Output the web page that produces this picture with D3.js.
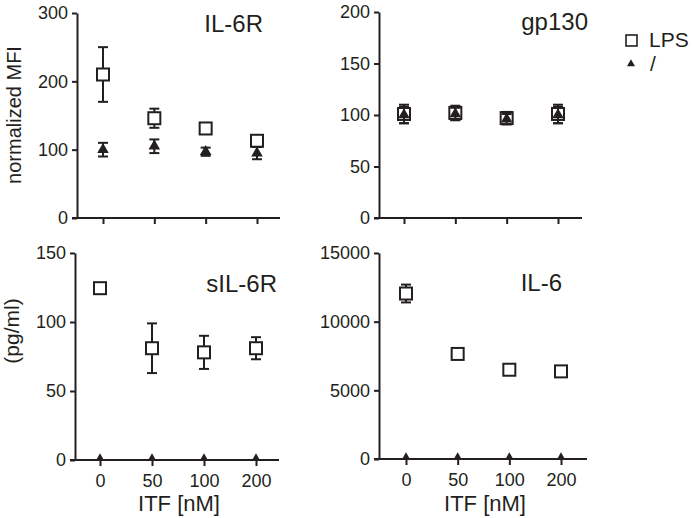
<!DOCTYPE html>
<html>
<head>
<meta charset="utf-8">
<script src="https://cdn.jsdelivr.net/npm/d3@7"></script>
<style>
  body { margin: 0; background: #fff; }
  svg { font-family: "Liberation Sans", Arial, sans-serif; }
  .axis path, .axis line { stroke: #231f20; stroke-width: 2; }
  .axis text { font-size: 18px; fill: #231f20; }
</style>
</head>
<body>
<div id="chart"></div>
<script>

const doses = ["0", "50", "100", "200"];

// LPS series (open squares) and control "/" series (filled triangles)
const il6r_lps = [210, 146, 131, 113];
const il6r_lps_err = [40, 14, 5, 6];
const il6r_ctrl = [100, 105, 97, 95];
const il6r_ctrl_err = [10, 10, 6, 9];

const gp130_lps = [101, 102, 97, 101];
const gp130_lps_err = [9, 7, 6, 9];
const gp130_ctrl = [100, 101, 96, 100];
const gp130_ctrl_err = [8, 6, 5, 8];

const sil6r_lps = [124.5, 81, 78, 81];
const sil6r_lps_err = [3, 18, 12, 8];
const sil6r_ctrl = [0, 0, 0, 0];

const il6_lps = [12050, 7650, 6500, 6380];
const il6_lps_err = [650, 150, 250, 150];
const il6_ctrl = [0, 0, 0, 0];

const yTicks1 = [0, 100, 200, 300];
const yTicks2 = [0, 50, 100, 150, 200];
const yTicks3 = [0, 50, 100, 150];
const yTicks4 = [0, 5000, 10000, 15000];

const INK = "#231f20";

const FRAME = d3.select("#chart")
                .append("svg")
                  .attr("width", 693)
                  .attr("height", 518);

// one panel per measurement
const panels = [
  {id: "p1", title: "IL-6R", ax: 77, axEnd: 280, px: [103, 257], y0: 218, y1: 13, max: 300,
   ticks: yTicks1, lps: il6r_lps, lpsErr: il6r_lps_err, ctrl: il6r_ctrl, ctrlErr: il6r_ctrl_err,
   tx: 263, ty: 32, xlab: false},
  {id: "p2", title: "gp130", ax: 379, axEnd: 582, px: [404, 558], y0: 218, y1: 12, max: 200,
   ticks: yTicks2, lps: gp130_lps, lpsErr: gp130_lps_err, ctrl: gp130_ctrl, ctrlErr: gp130_ctrl_err,
   tx: 588, ty: 30, xlab: false},
  {id: "p3", title: "sIL-6R", ax: 75, axEnd: 279, px: [100, 256], y0: 460, y1: 253, max: 150,
   ticks: yTicks3, lps: sil6r_lps, lpsErr: sil6r_lps_err, ctrl: sil6r_ctrl, ctrlErr: null,
   tx: 277, ty: 292, xlab: true},
  {id: "p4", title: "IL-6", ax: 379, axEnd: 587, px: [406, 561], y0: 459, y1: 253, max: 15000,
   ticks: yTicks4, lps: il6_lps, lpsErr: il6_lps_err, ctrl: il6_ctrl, ctrlErr: null,
   tx: 562, ty: 291, xlab: true}
];

const triangle = d3.symbol().type(d3.symbolTriangle).size(58);

panels.forEach((p) => {
  const X = d3.scalePoint().domain(doses).range(p.px);
  const Y = d3.scaleLinear().domain([0, p.max]).range([p.y0, p.y1]);

  const g = FRAME.append("g");

  // clip marks so nothing pokes below the x axis
  FRAME.append("clipPath").attr("id", "clip-" + p.id)
       .append("rect")
         .attr("x", p.ax).attr("y", 0)
         .attr("width", p.axEnd - p.ax).attr("height", p.y0);

  // axes
  g.append("g").attr("class", "axis")
    .attr("transform", "translate(" + p.ax + ",0)")
    .call(d3.axisLeft(Y).tickValues(p.ticks).tickFormat(d3.format("d"))
            .tickSize(5).tickPadding(4).tickSizeOuter(0));

  const xa = g.append("g").attr("class", "axis")
    .attr("transform", "translate(0," + p.y0 + ")")
    .call(d3.axisBottom(X).tickSize(6).tickPadding(8).tickSizeOuter(0));
  xa.select(".domain").attr("d", "M" + (p.ax - 5) + ",0H" + p.axEnd);
  if (!p.xlab) xa.selectAll("text").remove();

  const marks = g.append("g").attr("clip-path", "url(#clip-" + p.id + ")");

  function errBars(vals, errs) {
    const eg = marks.append("g").attr("stroke", INK).attr("stroke-width", 2).attr("fill", "none");
    vals.forEach((v, i) => {
      const x = X(doses[i]);
      const hi = Y(v + errs[i]), lo = Y(v - errs[i]);
      eg.append("line").attr("x1", x).attr("x2", x).attr("y1", hi).attr("y2", lo);
      eg.append("line").attr("x1", x - 5).attr("x2", x + 5).attr("y1", hi).attr("y2", hi);
      eg.append("line").attr("x1", x - 5).attr("x2", x + 5).attr("y1", lo).attr("y2", lo);
    });
  }

  errBars(p.lps, p.lpsErr);
  marks.selectAll(".sq").data(p.lps).enter()
    .append("rect")
      .attr("x", (d, i) => X(doses[i]) - 6)
      .attr("y", (d) => Y(d) - 6)
      .attr("width", 12).attr("height", 12)
      .attr("fill", "#fff").attr("stroke", INK).attr("stroke-width", 2);

  if (p.ctrlErr) errBars(p.ctrl, p.ctrlErr);
  marks.selectAll(".tri").data(p.ctrl).enter()
    .append("path")
      .attr("d", triangle)
      .attr("transform", (d, i) => "translate(" + X(doses[i]) + "," + Y(d) + ")")
      .attr("fill", INK);

  g.append("text")
    .attr("x", p.tx).attr("y", p.ty)
    .attr("text-anchor", "end")
    .attr("font-size", 24).attr("fill", INK)
    .text(p.title);

  if (p.xlab) {
    g.append("text")
      .attr("x", (p.ax + p.axEnd) / 2 + 2).attr("y", 511)
      .attr("text-anchor", "middle")
      .attr("font-size", 22).attr("fill", INK)
      .text("ITF [nM]");
  }
});

// y axis titles
FRAME.append("text")
  .attr("transform", "translate(21,115) rotate(-90)")
  .attr("text-anchor", "middle")
  .attr("font-size", 20).attr("fill", INK)
  .text("normalized MFI");

FRAME.append("text")
  .attr("transform", "translate(19,331) rotate(-90)")
  .attr("text-anchor", "middle")
  .attr("font-size", 21).attr("fill", INK)
  .text("(pg/ml)");

// legend
const legend = FRAME.append("g");
legend.append("rect")
  .attr("x", 626).attr("y", 35).attr("width", 11).attr("height", 11)
  .attr("fill", "#fff").attr("stroke", INK).attr("stroke-width", 1.6);
legend.append("text")
  .attr("x", 649).attr("y", 47)
  .attr("font-size", 21).attr("fill", INK)
  .text("LPS");
legend.append("path")
  .attr("d", d3.symbol().type(d3.symbolTriangle).size(28))
  .attr("transform", "translate(631,64)")
  .attr("fill", INK);
legend.append("text")
  .attr("x", 650).attr("y", 71)
  .attr("font-size", 21).attr("fill", INK)
  .text("/");

</script>
</body>
</html>
